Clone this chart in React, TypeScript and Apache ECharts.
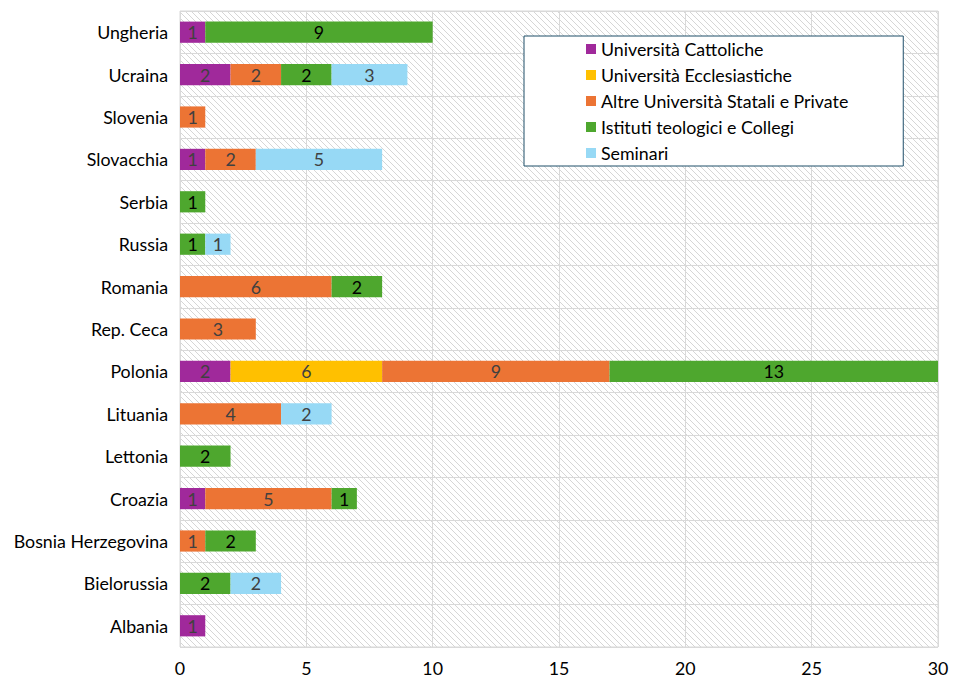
import React, { useEffect, useRef } from "react";
import * as echarts from "echarts";

const categories = [
  "Albania", "Bielorussia", "Bosnia Herzegovina", "Croazia", "Lettonia",
  "Lituania", "Polonia", "Rep. Ceca", "Romania", "Russia", "Serbia",
  "Slovacchia", "Slovenia", "Ucraina", "Ungheria",
];
const seriesNames = [
  "Università Cattoliche",
  "Università Ecclesiastiche",
  "Altre Università Statali e Private",
  "Istituti teologici e Collegi",
  "Seminari",
];
const cattoliche = [1, 0, 0, 1, 0, 0, 2, 0, 0, 0, 0, 1, 0, 2, 1];
const ecclesiastiche = [0, 0, 0, 0, 0, 0, 6, 0, 0, 0, 0, 0, 0, 0, 0];
const altre = [0, 0, 1, 5, 0, 4, 9, 3, 6, 0, 0, 2, 1, 2, 0];
const istituti = [0, 2, 2, 1, 2, 0, 13, 0, 2, 1, 1, 0, 0, 2, 9];
const seminari = [0, 2, 0, 0, 0, 2, 0, 0, 0, 1, 0, 5, 0, 3, 0];
const xTicks = { min: 0, max: 30, interval: 5 };

const colors = ["#A0299B", "#FFC000", "#EC7434", "#4EA72E", "#97D9F5"];
const labelColors = ["#404040", "#404040", "#404040", "#000000", "#404040"];
const FONT = "Lato, 'Open Sans', sans-serif";
const FS = 17.8;

function makeHatch() {
  const c = document.createElement("canvas");
  c.width = 6;
  c.height = 6;
  const ctx = c.getContext("2d")!;
  ctx.fillStyle = "#ffffff";
  ctx.fillRect(0, 0, 6, 6);
  ctx.strokeStyle = "#D6D6D6";
  ctx.lineWidth = 1;
  for (const off of [-6, 0, 6]) {
    ctx.beginPath();
    ctx.moveTo(off - 1, -1);
    ctx.lineTo(off + 7, 7);
    ctx.stroke();
  }
  return c;
}

export default function App() {
  const ref = useRef<HTMLDivElement>(null);
  useEffect(() => {
    if (!ref.current) return;
    document.body.style.margin = "0";
    document.body.style.overflow = "hidden";
    const chart = echarts.init(ref.current, undefined, { renderer: "svg" });
    const hatch = makeHatch();
    const data = [cattoliche, ecclesiastiche, altre, istituti, seminari];
    chart.setOption({
      animation: false,
      textStyle: { fontFamily: FONT },
      grid: {
        left: 180, right: 25, top: 11, bottom: 35,
        show: true,
        borderColor: "#D9D9D9",
        borderWidth: 1,
        backgroundColor: { image: hatch, repeat: "repeat", imageWidth: 6, imageHeight: 6 } as any,
      },
      legend: {
        orient: "vertical",
        left: 524,
        top: 36,
        padding: [4, 55, 4, 62],
        itemGap: 8,
        itemWidth: 10,
        itemHeight: 10,
        icon: "rect",
        borderColor: "#1F4E69",
        borderWidth: 1,
        backgroundColor: "#ffffff",
        textStyle: { fontSize: FS, color: "#000", fontFamily: FONT },
        data: seriesNames,
      },
      xAxis: {
        type: "value",
        ...xTicks,
        axisLine: { show: false },
        axisTick: { show: false },
        axisLabel: { fontSize: FS, color: "#000", margin: 12, fontFamily: FONT },
        splitLine: { lineStyle: { color: "#D9D9D9" } },
      },
      yAxis: {
        type: "category",
        data: categories,
        axisLine: { show: false },
        axisTick: { show: false },
        axisLabel: { fontSize: FS, color: "#000", margin: 12, fontFamily: FONT },
        splitLine: { show: true, lineStyle: { color: "#D9D9D9" } },
      },
      series: seriesNames.map((name, i) => ({
        name,
        type: "bar",
        stack: "total",
        barWidth: "50%",
        data: data[i],
        itemStyle: { color: colors[i] },
        label: {
          show: true,
          position: "inside",
          fontSize: FS,
          color: labelColors[i],
          fontFamily: FONT,
          formatter: (p: any) => (p.value ? String(p.value) : ""),
        },
      })),
    });
    return () => chart.dispose();
  }, []);
  return <div ref={ref} style={{ width: 963, height: 682 }} />;
}
